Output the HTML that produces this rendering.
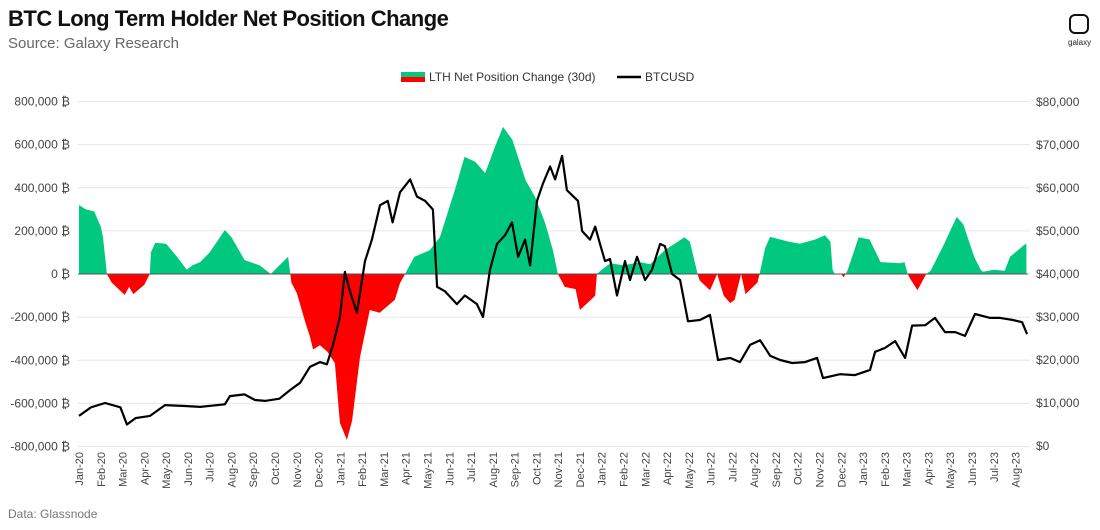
<!DOCTYPE html>
<html><head><meta charset="utf-8">
<style>
body{margin:0;background:#fff;font-family:"Liberation Sans","DejaVu Sans",sans-serif;}
#wrap{position:relative;width:1100px;height:530px;overflow:hidden;}
.t{position:absolute;white-space:nowrap;}
</style></head><body>
<div id="wrap">
<div class="t" style="left:8px;top:6px;font-size:22px;font-weight:bold;color:#111;letter-spacing:-0.5px;">BTC Long Term Holder Net Position Change</div>
<div class="t" style="left:8px;top:35px;font-size:15px;color:#666;">Source: Galaxy Research</div>
<div class="t" style="left:8px;top:507px;font-size:12px;color:#777;">Data: Glassnode</div>
<div style="position:absolute;left:1069px;top:14px;width:20px;height:20px;border:2.5px solid #111;border-radius:6px;box-sizing:border-box;"></div>
<div class="t" style="left:1068px;top:38px;font-size:8px;color:#222;">galaxy</div>
<svg id="chart" width="1100" height="530" style="position:absolute;left:0;top:0;"></svg>
</div>
<script>
const lthMonths=[0,0.3,0.7,1.0,1.1,1.28,1.5,2.1,2.3,2.5,3.0,3.25,3.3,3.5,4.0,4.5,4.95,5.2,5.56,6.0,6.7,7.0,7.6,8.3,8.8,9.2,9.6,9.7,9.75,10.0,10.4,10.6,10.75,11.06,11.4,11.75,11.98,12.3,12.54,12.9,13.35,13.8,14.5,14.74,14.97,15.4,16.1,16.57,17.26,17.7,18.2,18.65,19.1,19.47,19.9,20.5,20.94,21.4,21.76,21.99,22.3,22.8,23.0,23.5,23.7,23.78,24.0,24.4,25.0,25.75,26.22,26.9,27.8,28.05,28.4,28.5,28.97,29.3,29.6,29.9,30.1,30.4,30.6,31.15,31.25,31.5,31.73,32.6,33.1,33.8,34.25,34.5,34.6,34.7,35.0,35.1,35.2,35.3,35.8,36.3,36.8,37.7,37.9,38.05,38.15,38.5,38.9,39.1,39.7,40.3,40.6,41.1,41.4,41.5,42.0,42.5,42.75,43.4,43.5];
const lthValues=[320,300,290,220,170,0,-40,-97,-60,-93,-50,0,100,144,140,80,20,40,55,100,204,170,65,40,0,40,80,0,-40,-88,-227,-290,-350,-330,-360,-413,-690,-770,-680,-385,-167,-180,-120,-42,0,80,110,170,390,543,520,468,590,682,622,436,357,237,111,0,-60,-70,-167,-120,-100,0,20,50,40,55,45,111,170,150,0,-30,-75,0,-100,-135,-120,0,-93,-40,0,120,172,150,140,160,180,150,20,0,0,-15,0,20,170,160,55,50,55,0,-20,-75,0,15,135,265,230,80,20,10,20,15,80,135,140];
const btcMonths=[0,0.55,1.2,1.9,2.2,2.6,3.26,3.95,4.87,5.56,6.7,6.93,7.6,8.08,8.54,9.2,9.69,10.15,10.6,11.06,11.38,11.66,11.98,12.21,12.44,12.76,13.13,13.45,13.82,14.18,14.4,14.74,15.2,15.52,15.89,16.25,16.44,16.8,17.35,17.72,18.27,18.55,18.87,19.19,19.56,19.88,20.16,20.48,20.71,21.03,21.3,21.63,21.86,22.18,22.4,22.91,23.1,23.46,23.7,23.92,24.15,24.38,24.7,25.07,25.3,25.62,25.99,26.31,26.68,26.9,27.23,27.6,27.96,28.51,28.97,29.34,29.89,30.35,30.81,31.27,31.73,32.19,32.74,33.34,33.89,34.16,34.94,35.63,36.32,36.55,37.0,37.47,37.93,38.25,38.85,39.3,39.76,40.23,40.68,41.14,41.83,42.29,42.89,43.3,43.53];
const btcValues=[7,9,10,9,5,6.5,7,9.5,9.3,9.1,9.7,11.6,12,10.7,10.5,11,13,14.7,18.4,19.5,19,23.5,30,40.5,36,31,43,48,56,57,52,59,62,58,57,55,37,36,33,35,33,30,41,47,49,52,44,48,42,57,61,65,62,67.5,59.5,57,50,48,51,47,43,43.5,35,43,38.6,44,38.6,41,47,46.5,40,38.6,29,29.3,30.5,20,20.5,19.5,23.5,24.6,21,20,19.3,19.5,20.5,15.8,16.7,16.5,17.7,21.9,22.8,24.4,20.5,28,28.1,29.8,26.5,26.5,25.6,30.7,29.8,29.8,29.3,28.8,26];
const monthLabels=["Jan-20","Feb-20","Mar-20","Apr-20","May-20","Jun-20","Jul-20","Aug-20","Sep-20","Oct-20","Nov-20","Dec-20","Jan-21","Feb-21","Mar-21","Apr-21","May-21","Jun-21","Jul-21","Aug-21","Sep-21","Oct-21","Nov-21","Dec-21","Jan-22","Feb-22","Mar-22","Apr-22","May-22","Jun-22","Jul-22","Aug-22","Sep-22","Oct-22","Nov-22","Dec-22","Jan-23","Feb-23","Mar-23","Apr-23","May-23","Jun-23","Jul-23","Aug-23"];
const leftTicks=[800,600,400,200,0,-200,-400,-600,-800];
const rightTicks=[80,70,60,50,40,30,20,10,0];

const NS="http://www.w3.org/2000/svg";
const svg=document.getElementById('chart');
const X0=79,PXM=21.78;
const xS=m=>X0+m*PXM;
const yL=v=>274-v*(172.5/800);
const yR=v=>446-v*(344/80);
function mk(tag,attrs){const e=document.createElementNS(NS,tag);for(const k in attrs)e.setAttribute(k,attrs[k]);svg.appendChild(e);return e;}
function fmt(n){return n.toLocaleString('en-US');}

leftTicks.forEach(v=>{
  const g=mk('line',{x1:78,x2:1030,y1:yL(v),y2:yL(v),stroke:'#e6e6e6','stroke-width':1});
  
  
  const t=mk('text',{x:70,y:yL(v)+4,'text-anchor':'end','font-size':12,fill:'#444'});
  t.textContent=(v===0?'0':fmt(v*1000))+' \u20BF';
  
  
});
rightTicks.forEach(v=>{
  const t=mk('text',{x:1036,y:yR(v)+4,'font-size':12,fill:'#444'});
  t.textContent='$'+fmt(v*1000);
  
  
});
monthLabels.forEach((l,i)=>{
  const x=xS(i)+4;
  const t=mk('text',{x:x,y:452,'font-size':11,fill:'#444','text-anchor':'end',transform:`rotate(-90 ${x} 452)`});
  t.textContent=l;
  
  
});

function areaPath(sign){
  let d=`M${xS(lthMonths[0])},${yL(0)}`;
  lthMonths.forEach((m,i)=>{const v=sign>0?Math.max(lthValues[i],0):Math.min(lthValues[i],0);d+=`L${xS(m).toFixed(1)},${yL(v).toFixed(1)}`;});
  d+=`L${xS(lthMonths[lthMonths.length-1])},${yL(0)}Z`;
  return d;
}
const pos=mk('path',{d:areaPath(1),fill:'#00c87f'});


const neg=mk('path',{d:areaPath(-1),fill:'#ff0000'});


const zl=mk('line',{x1:78,x2:1028,y1:yL(0),y2:yL(0),stroke:'#555','stroke-width':1});



let bd='';
btcMonths.forEach((m,i)=>{bd+=(i?'L':'M')+xS(m).toFixed(1)+','+yR(btcValues[i]).toFixed(1);});
const bl=mk('path',{d:bd,fill:'none',stroke:'#000','stroke-width':2.2,'stroke-linejoin':'round'});



// legend
const lg1=mk('rect',{x:401,y:72,width:24,height:5,fill:'#00c87f'});


const lg2=mk('rect',{x:401,y:77,width:24,height:5,fill:'#ff0000'});


const lt1=mk('text',{x:429,y:81,'font-size':12,fill:'#333'});
lt1.textContent='LTH Net Position Change (30d)';


const lg3=mk('line',{x1:617,x2:641,y1:77,y2:77,stroke:'#000','stroke-width':2.5});


const lt2=mk('text',{x:645,y:81,'font-size':12,fill:'#333'});
lt2.textContent='BTCUSD';


</script>
</body></html>
